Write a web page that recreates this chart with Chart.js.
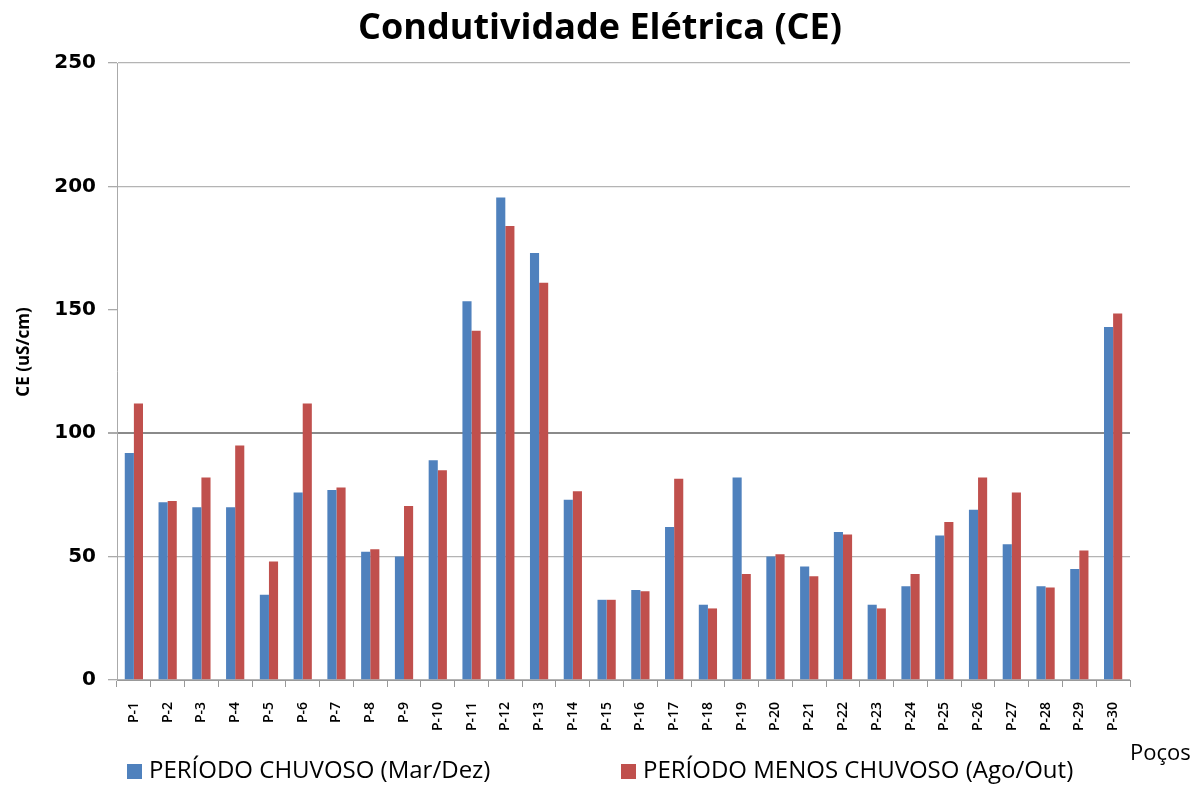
<!DOCTYPE html>
<html>
<head>
<meta charset="utf-8">
<script src="https://cdn.jsdelivr.net/npm/chart.js@4/dist/chart.umd.min.js"></script>
<style>
html,body{margin:0;padding:0;background:#fff;}
#wrap{width:1197px;height:785px;position:relative;}
</style>
</head>
<body>
<div id="wrap"><canvas id="c" width="1197" height="785"></canvas></div>
<script>
const categories = ["P-1","P-2","P-3","P-4","P-5","P-6","P-7","P-8","P-9","P-10","P-11","P-12","P-13","P-14","P-15","P-16","P-17","P-18","P-19","P-20","P-21","P-22","P-23","P-24","P-25","P-26","P-27","P-28","P-29","P-30"];
const chuvoso = [92,72,70,70,34.5,76,77,52,50,89,153.5,195.5,173,73,32.5,36.5,62,30.5,82,50,46,60,30.5,38,58.5,69,55,38,45,143];
const menosChuvoso = [112,72.5,82,95,48,112,78,53,70.5,85,141.5,184,161,76.5,32.5,36,81.5,29,43,51,42,59,29,43,64,82,76,37.5,52.5,148.5];
const yTicks = [0,50,100,150,200,250];
const seriesNames = ["PERÍODO CHUVOSO (Mar/Dez)","PERÍODO MENOS CHUVOSO (Ago/Out)"];
const seriesColors = ["#4F81BD","#C0504D"];
const chartTitle = "Condutividade Elétrica (CE)";
const yTitle = "CE (uS/cm)";
const xTitle = "Poços";

const extraText = {
  id:'extraText',
  afterDraw(chart){
    const ctx = chart.ctx;
    ctx.save();
    ctx.fillStyle = '#000';
    // title
    ctx.font = 'bold 36px "Open Sans", sans-serif';
    ctx.textAlign = 'center';
    ctx.textBaseline = 'middle';
    ctx.fillText(chartTitle, 600, 29);
    // legend
    ctx.font = '24px "Open Sans", sans-serif';
    ctx.textAlign = 'left';
    const ly = 771;
    const starts = [127, 621];
    chart.data.datasets.forEach((ds,i)=>{
      ctx.fillStyle = ds.backgroundColor;
      ctx.fillRect(starts[i], ly-7, 15, 15);
      ctx.fillStyle = '#000';
      ctx.fillText(ds.label, starts[i]+22, ly);
    });
    // x axis name
    ctx.font = '22px "Open Sans", sans-serif';
    ctx.fillText(xTitle, 1130, 754);
    // y axis name
    ctx.translate(24, 352);
    ctx.rotate(-Math.PI/2);
    ctx.textAlign = 'center';
    ctx.font = 'bold 17px "Open Sans", sans-serif';
    ctx.fillText(yTitle, 0, 0);
    ctx.restore();
  }
};

new Chart(document.getElementById('c'), {
  type:'bar',
  data:{
    labels: categories,
    datasets:[
      {label: seriesNames[0], data: chuvoso, backgroundColor: seriesColors[0], barPercentage:1, categoryPercentage:0.54},
      {label: seriesNames[1], data: menosChuvoso, backgroundColor: seriesColors[1], barPercentage:1, categoryPercentage:0.54}
    ]
  },
  options:{
    responsive:false,
    animation:false,
    layout:{padding:{left:0,right:67,top:63,bottom:0}},
    plugins:{
      legend:{display:false},
      tooltip:{enabled:false},
      title:{display:false}
    },
    scales:{
      x:{
        afterFit(s){ s.height = 105; },
        grid:{display:true, drawOnChartArea:false, offset:true, tickLength:7, color:'#999', tickColor:'#999'},
        border:{color:'#999', width:1},
        ticks:{
          minRotation:90, maxRotation:90, autoSkip:false, padding:15,
          color:'#000',
          font:{family:'"Open Sans", sans-serif', size:14, weight:'600'}
        }
      },
      y:{
        min:0, max:250,
        afterFit(s){ s.width = 117; },
        afterBuildTicks(s){ s.ticks = yTicks.map(v=>({value:v})); },
        border:{color:'#aaa', width:1},
        grid:{
          color:(c)=> c.tick && c.tick.value===150 ? 'rgba(0,0,0,0)' : (c.tick && c.tick.value===100 ? '#8a8a8a' : '#b4b4b4'),
          lineWidth:(c)=> c.tick && c.tick.value===100 ? 2 : 1.3,
          tickColor:'#aaa',
          tickLength:9
        },
        ticks:{
          stepSize:50, padding:12, color:'#000',
          font:{family:'"DejaVu Sans", sans-serif', size:20, weight:'bold'}
        },
        title:{display:false}
      }
    }
  },
  plugins:[extraText]
});
</script>
</body>
</html>
